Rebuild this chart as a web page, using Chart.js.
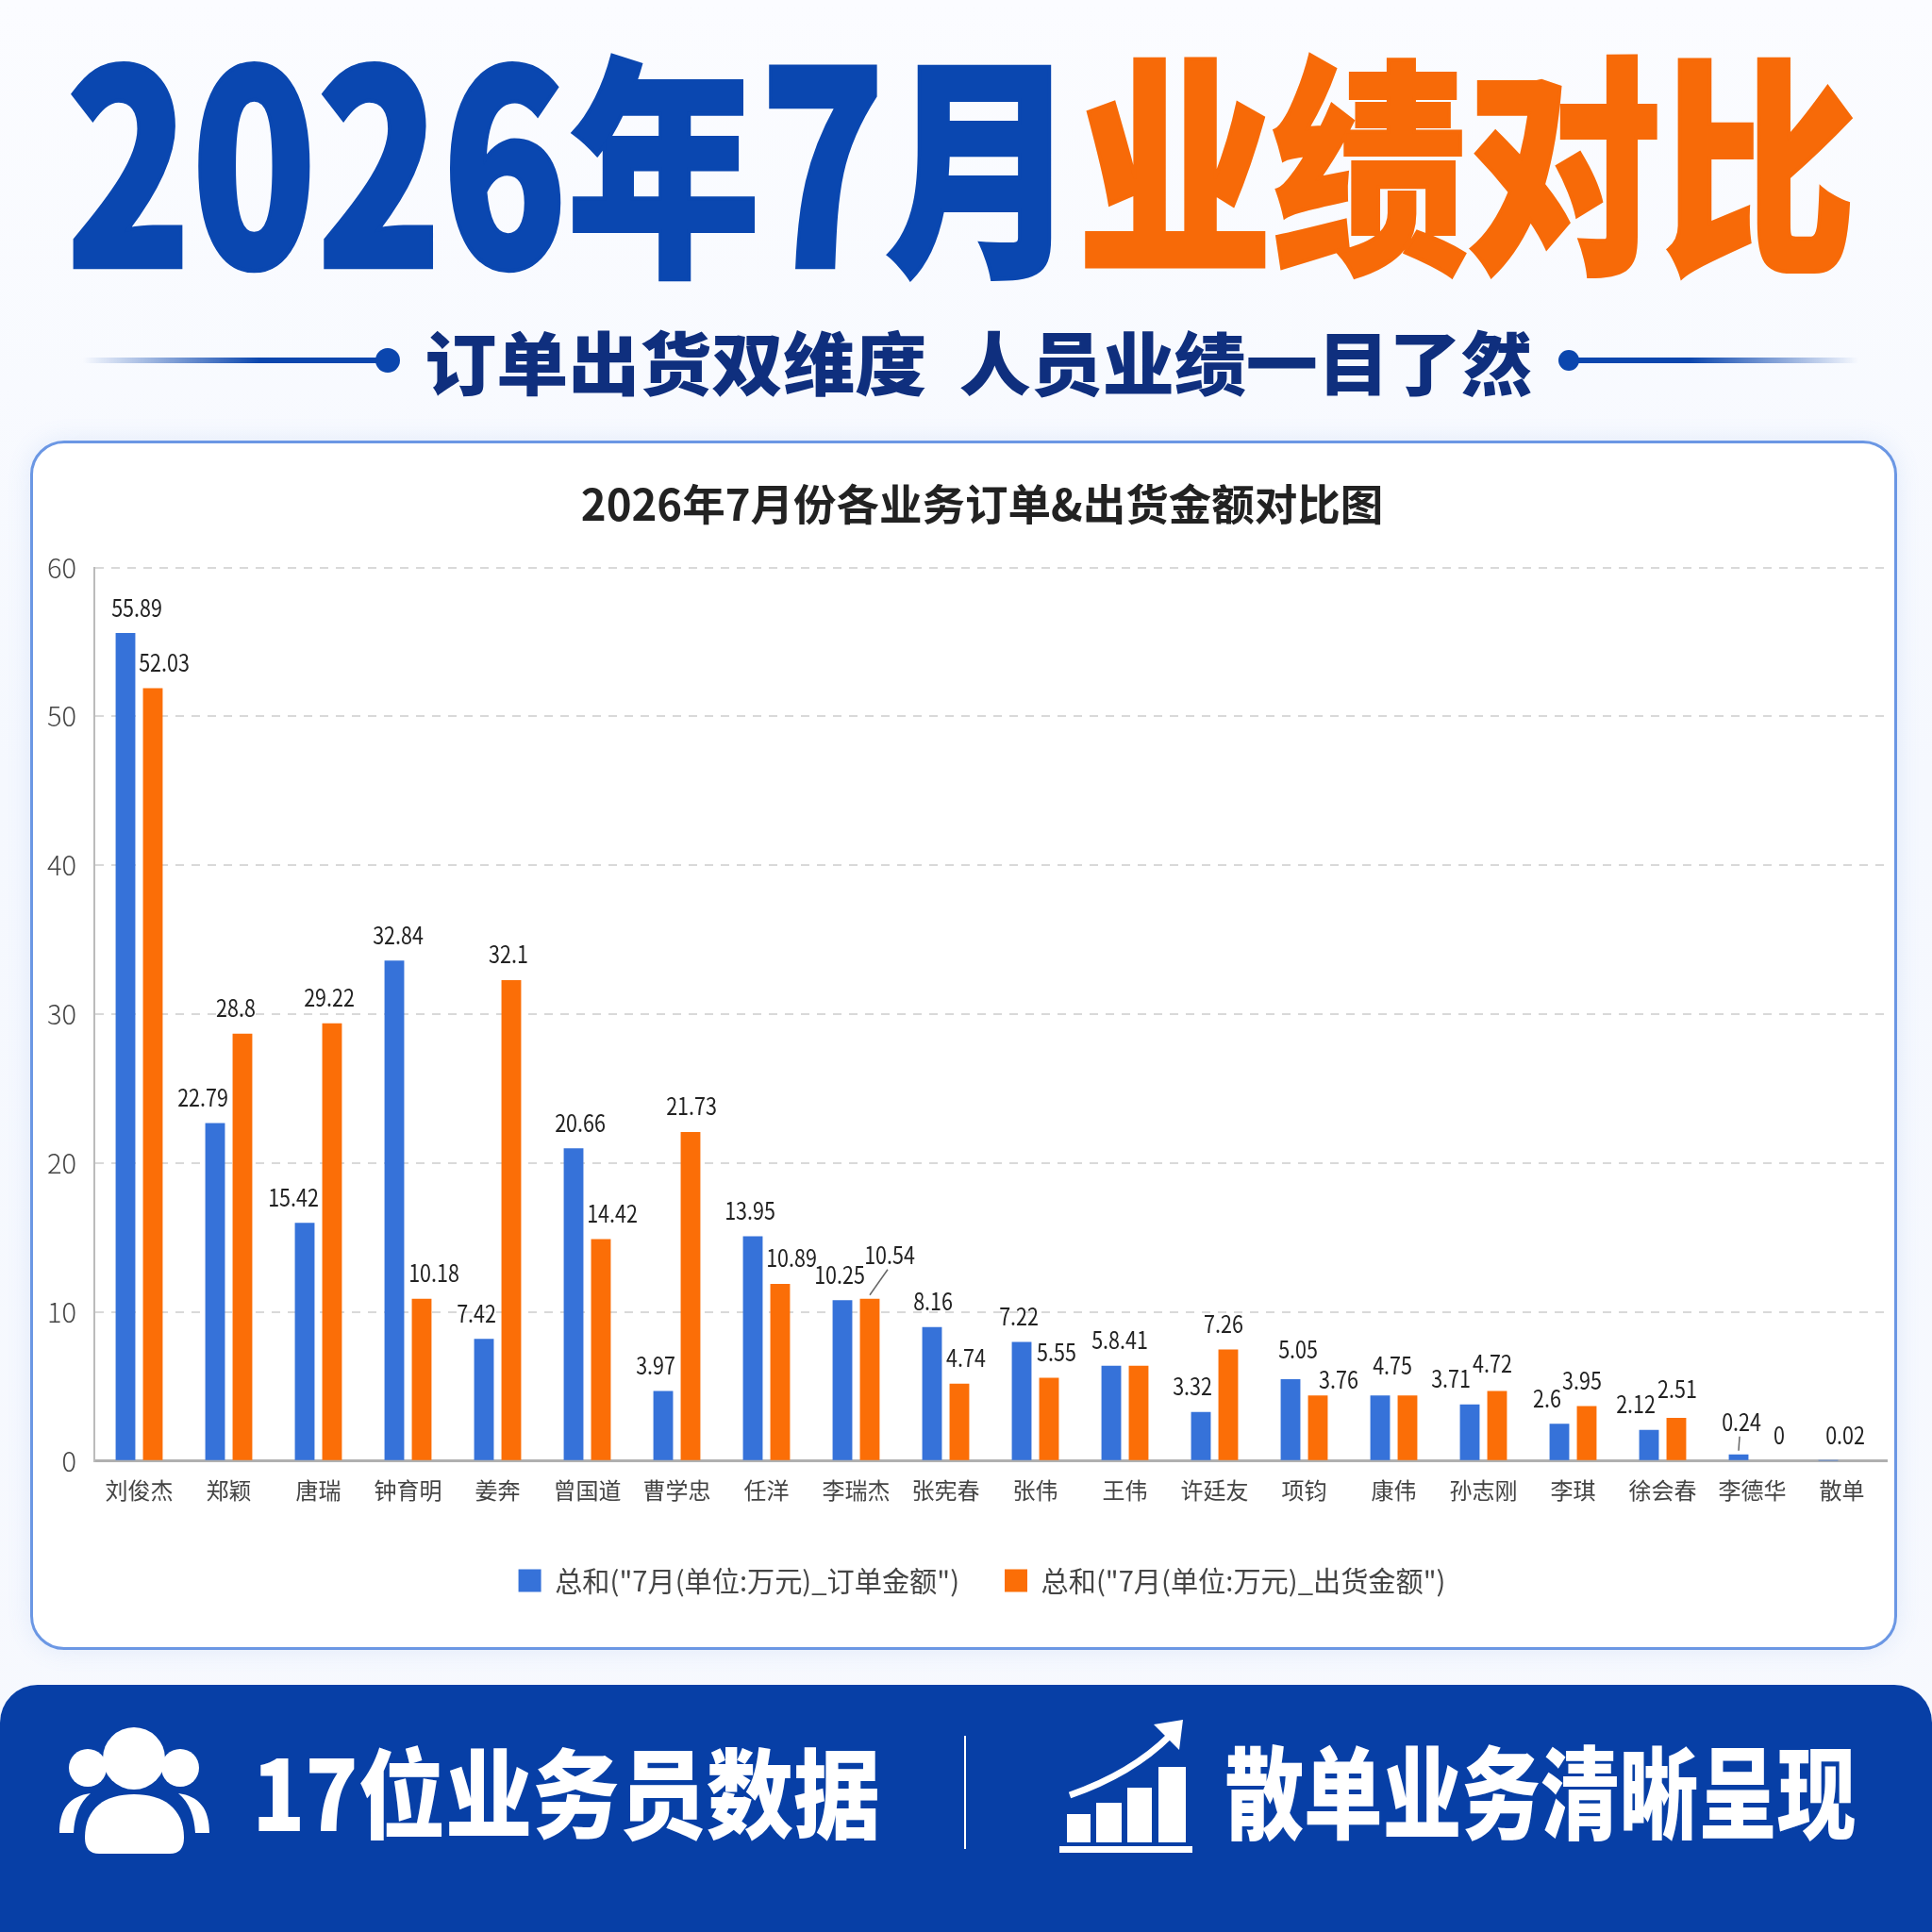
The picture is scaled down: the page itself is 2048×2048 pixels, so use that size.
<!DOCTYPE html>
<html lang="zh"><head><meta charset="utf-8">
<script src="https://cdn.jsdelivr.net/npm/chart.js@4/dist/chart.umd.min.js"></script>
<style>
html,body{margin:0;padding:0;width:2048px;height:2048px;overflow:hidden;background:linear-gradient(180deg,#fbfcff 0%,#f5f8fe 40%,#f7f9fe 100%);}
#card{position:absolute;left:32px;top:467px;width:1973px;height:1276px;background:#fff;border:3px solid #6b97e4;border-radius:36px;box-shadow:0 0 26px rgba(90,140,230,.14);}
#foot{position:absolute;left:0;top:1786px;width:2048px;height:262px;background:#073fa6;border-radius:40px 40px 0 0;}
#c{position:absolute;left:0;top:467px;}
#art{position:absolute;left:0;top:0;}
</style></head><body>
<div id="card"></div><div id="foot"></div>
<canvas id="c" width="2048" height="1281"></canvas>
<svg id="art" width="2048" height="2048" viewBox="0 0 2048 2048" xmlns="http://www.w3.org/2000/svg">
<defs>
<linearGradient id="gl" x1="0" x2="1" y1="0" y2="0"><stop offset="0" stop-color="#0b46ae" stop-opacity="0"/><stop offset=".6" stop-color="#0b46ae"/><stop offset="1" stop-color="#0b46ae"/></linearGradient>
<linearGradient id="gr" x1="0" x2="1" y1="0" y2="0"><stop offset="0" stop-color="#0b46ae"/><stop offset=".4" stop-color="#0b46ae"/><stop offset="1" stop-color="#0b46ae" stop-opacity="0"/></linearGradient>
</defs>
<rect x="88" y="379" width="312" height="6" fill="url(#gl)"/><circle cx="411" cy="382" r="13" fill="#0b46ae"/>
<rect x="1672" y="379" width="298" height="6" fill="url(#gr)"/><circle cx="1663" cy="382" r="11" fill="#0b46ae"/>
<g fill="#fff">
<circle cx="142" cy="1864" r="33"/>
<path d="M90 1948C90 1916 112 1902 142 1902C172 1902 195 1916 195 1948Q195 1965 180 1965H105Q90 1965 90 1948Z"/>
<circle cx="93" cy="1874" r="20"/><circle cx="191" cy="1874" r="20"/>
<path d="M63 1943C63 1917 74 1904 96 1901C84 1911 79 1925 78 1943Z"/>
<path d="M222 1943C222 1917 211 1904 189 1901C201 1911 206 1925 207 1943Z"/>
<rect x="1022" y="1840" width="2" height="120"/>
<rect x="1131" y="1923" width="25" height="30"/><rect x="1162" y="1911" width="27" height="42"/>
<rect x="1195" y="1895" width="26" height="58"/><rect x="1228" y="1873" width="29" height="80"/>
<rect x="1123" y="1957" width="141" height="7"/>
<path d="M1134 1903Q1200 1880 1240 1840" fill="none" stroke="#fff" stroke-width="7"/>
<path d="M1254 1823L1223 1828L1250 1855Z"/>
</g>
<text id="t1" fill="#0a47b0">2026年7月</text>
<text id="t2" fill="#f76a08">业绩对比</text>
<text id="t3" fill="#0f2f7e" xml:space="preserve">订单出货双维度 人员业绩一目了然</text>
<text id="t4" fill="#fff">17位业务员数据</text>
<text id="t5" fill="#fff">散单业务清晰呈现</text>
</svg>
<script>
const FONT = '"Noto Sans CJK SC"';
const categories = ['刘俊杰','郑颖','唐瑞','钟育明','姜奔','曾国道','曹学忠','任洋','李瑞杰','张宪春','张伟','王伟','许廷友','项钧','康伟','孙志刚','李琪','徐会春','李德华','散单'];
// bar heights
const orderAmounts = [55.6,22.7,16.0,33.6,8.2,21.0,4.7,15.1,10.8,9.0,8.0,6.4,3.3,5.5,4.4,3.8,2.5,2.1,0.45,0.02];
const shipAmounts  = [51.9,28.7,29.4,10.9,32.3,14.9,22.1,11.9,10.9,5.2,5.6,6.4,7.5,4.4,4.4,4.7,3.7,2.9,0,0];
// value labels as printed in the picture
const orderLabels = ['55.89','22.79','15.42','32.84','7.42','20.66','3.97','13.95','10.25','8.16','7.22','5.8.41','3.32','5.05','4.75','3.71','2.6','2.12','0.24','0.02'];
const shipLabels  = ['52.03','28.8','29.22','10.18','32.1','14.42','21.73','10.89','10.54','4.74','5.55','','7.26','3.76','','4.72','3.95','2.51','0',''];
const yTicks = [0,10,20,30,40,50,60];
const seriesNames = ['总和("7月(单位:万元)_订单金额")','总和("7月(单位:万元)_出货金额")'];
const chartTitle = '2026年7月份各业务订单&出货金额对比图';

function fit(id, font, x0, x1, y0, y1, stroke, wordGap){
  const el = document.getElementById(id);
  const m = document.createElement('canvas').getContext('2d');
  m.font = font;
  if(wordGap) m.wordSpacing = wordGap+'px';
  const r = m.measureText(el.textContent);
  const w = r.actualBoundingBoxLeft + r.actualBoundingBoxRight;
  const h = r.actualBoundingBoxAscent + r.actualBoundingBoxDescent;
  const sx = (x1-x0)/w, sy = (y1-y0)/h;
  el.setAttribute('style','font:'+font+';'+(wordGap?'word-spacing:'+wordGap+'px;':''));
  el.setAttribute('transform','matrix('+sx+' 0 0 '+sy+' '+(x0+r.actualBoundingBoxLeft*sx)+' '+(y0+r.actualBoundingBoxAscent*sy)+')');
  if(stroke){el.setAttribute('stroke',el.getAttribute('fill'));el.setAttribute('stroke-width',stroke);}
  return {sx,sy};
}
const t1Scale = fit('t1','900 240px '+FONT,76,1071,59,297,4);
fit('t2','900 240px '+FONT,1152,1962,59,296,4);
fit('t3','900 80px '+FONT,453,1623,349,422,0,18);
fit('t4','900 110px '+FONT,274,930,1849,1953);
fit('t5','900 110px '+FONT,1300,1966,1849,1953);

// the headline digits are taller and narrower than the CJK glyphs beside them
(function(){
  const el = document.getElementById('t1');
  const m = document.createElement('canvas').getContext('2d');
  m.font = '900 240px '+FONT;
  const NS = 'http://www.w3.org/2000/svg';
  el.textContent = '';
  const drop = 11/t1Scale.sy;
  [['2026',true],['年',false],['7',true],['月',false]].forEach(([s,digit])=>{
    const t = document.createElementNS(NS,'tspan');
    t.textContent = s;
    if(digit){
      t.setAttribute('style','font-size:277px');
      t.setAttribute('textLength', m.measureText(s).width*1.0676);
      t.setAttribute('lengthAdjust','spacingAndGlyphs');
    }
    t.setAttribute('dy', digit? drop : -drop);
    el.appendChild(t);
  });
})();

// label layout: [dx,dy] from the default spot above each bar
const orderNudge = [[12,0],[-13,0],[-12,0],[4,0],[-8,0],[7,0],[-8,0],[-3,0],[-3,0],[1,0],[-3,0],[9,0],[-9,0],[8,-4],[13,-5],[-20,0],[-13,0],[-14,0],[3,-7],[18,0]];
const shipNudge  = [[12,0],[-7,0],[-3,0],[13,0],[-3,0],[12,0],[1,0],[12,0],[21,-19],[7,0],[8,0],[0,0],[-5,0],[22,10],[0,0],[-5,-2],[-5,0],[1,-4],[14,0],[0,0]];
const leaders = {order:[18], ship:[8]};

const labelPlugin = {
  id:'barLabels',
  afterDatasetsDraw(chart){
    const ctx = chart.ctx;
    const sets = [[0,orderLabels,orderNudge,leaders.order],[1,shipLabels,shipNudge,leaders.ship]];
    ctx.save();
    ctx.font = '400 25px '+FONT;
    ctx.fillStyle = '#222';
    ctx.textAlign = 'center';
    ctx.textBaseline = 'middle';
    for(const [d,labels,nudge,lead] of sets){
      chart.getDatasetMeta(d).data.forEach((el,i)=>{
        if(!labels[i]) return;
        const lx = el.x+nudge[i][0], ly = el.y-27+nudge[i][1];
        ctx.save();
        ctx.translate(lx,ly);
        ctx.scale(0.86,1);
        ctx.fillText(labels[i],0,0);
        ctx.restore();
        if(lead.includes(i)){
          ctx.strokeStyle='#666';ctx.lineWidth=1.5;
          ctx.beginPath();ctx.moveTo(lx-2,ly+15);ctx.lineTo(el.x,el.y-4);ctx.stroke();
        }
      });
    }
    ctx.restore();
  }
};

new Chart(document.getElementById('c'),{
  type:'bar',
  data:{labels:categories,datasets:[
    {label:seriesNames[0],data:orderAmounts,backgroundColor:'#3672d9',categoryPercentage:0.61,barPercentage:0.72},
    {label:seriesNames[1],data:shipAmounts,backgroundColor:'#fb6e07',categoryPercentage:0.61,barPercentage:0.72}
  ]},
  options:{
    responsive:false,animation:false,devicePixelRatio:1,
    layout:{padding:{left:82,right:48,top:0,bottom:48}},
    plugins:{
      tooltip:{enabled:false},
      title:{display:true,text:chartTitle,color:'#222',font:{family:FONT,size:45.5,weight:'700',lineHeight:1.2},padding:{top:40,bottom:40}},
      legend:{position:'bottom',labels:{boxWidth:24,boxHeight:24,padding:48,color:'#444',font:{family:FONT,size:29.2,weight:'400'}}}
    },
    scales:{
      x:{grid:{display:false},border:{color:'#b0b0b0',width:3},
         ticks:{color:'#444',font:{family:FONT,size:24},padding:9,maxRotation:0,autoSkip:false},
         afterFit(s){s.height=64;}},
      y:{min:0,max:60,afterBuildTicks(s){s.ticks=yTicks.map(v=>({value:v}));},
         afterFit(s){s.width=18;},
         grid:{drawTicks:false,lineWidth:2,color(c){return c.tick.value===0?'rgba(0,0,0,0)':'#d9d9d9';}},
         border:{color:'#bbbbbb',width:2,dash:[9,8]},
         ticks:{color:'#444',font:{family:FONT,size:29,weight:'300'},mirror:true,crossAlign:'far',padding:-50}}
    }
  },
  plugins:[labelPlugin]
});
</script>
</body></html>
